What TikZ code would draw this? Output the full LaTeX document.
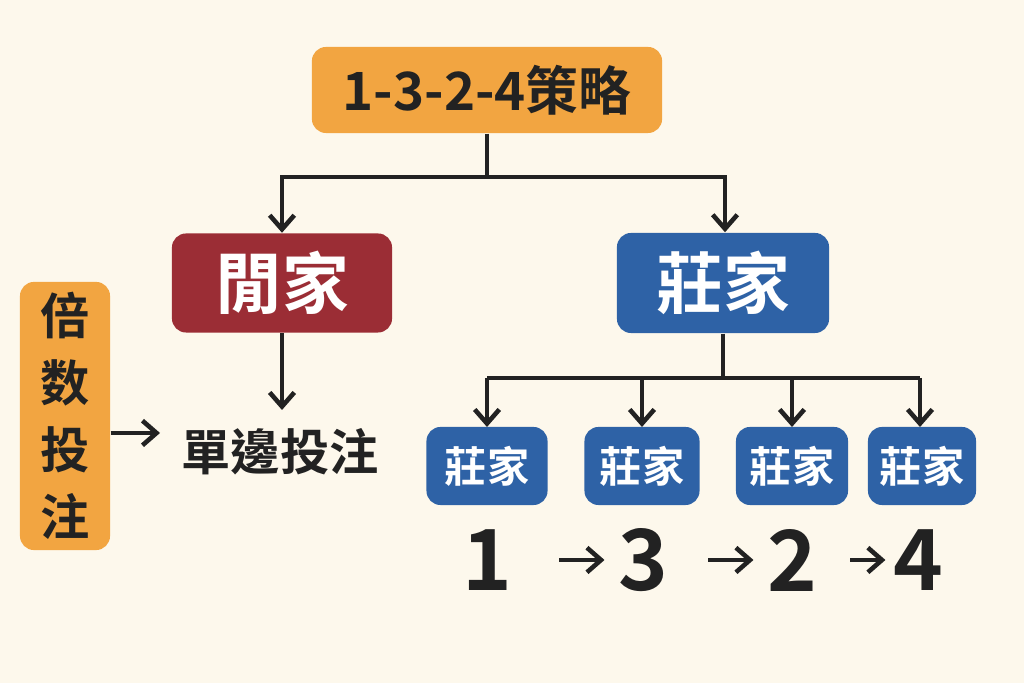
\documentclass[tikz,border=0pt]{standalone}
\usepackage{fontspec}
\setmainfont{Noto Sans CJK TC}[BoldFont={Noto Sans CJK TC Bold}]
\usetikzlibrary{positioning,arrows.meta}
\definecolor{cream}{HTML}{FDF8EC}
\definecolor{boxorange}{HTML}{F2A541}
\definecolor{boxred}{HTML}{9B2D35}
\definecolor{boxblue}{HTML}{2E62A6}
\definecolor{ink}{HTML}{222222}
\tikzset{
  box/.style={rounded corners=4pt, inner sep=0pt, font=\bfseries},
  conn/.style={ink, line width=1.3pt},
  arr/.style={conn, -{Straight Barb[length=4pt,width=7pt]}},
}
\begin{document}
\begin{tikzpicture}[x=0.01cm,y=-0.01cm]
  % Hintergrund
  \fill[cream] (0,0) rectangle (1024,683);
  \useasboundingbox (0,0) rectangle (1024,683);

  % Kasten
  \node[box, fill=boxorange, text=ink, minimum width=3.5cm, minimum height=0.86cm, font=\bfseries\fontsize{15}{18}\selectfont] (top) at (487,90) {1-3-2-4策略};
  \node[box, fill=boxred, text=white, minimum width=2.2cm, minimum height=0.99cm, font=\bfseries\fontsize{19}{22}\selectfont] (xian) at (282,283) {閒家};
  \node[box, fill=boxblue, text=white, minimum width=2.12cm, minimum height=1cm, font=\bfseries\fontsize{19}{22}\selectfont] (zhuang) at (723,283) {莊家};
  \node[box, fill=boxorange, text=ink, minimum width=0.9cm, minimum height=2.68cm, align=center, font=\bfseries\fontsize{14}{19}\selectfont] (bei) at (65,416) {倍\\数\\投\\注};
  \node[font=\bfseries\fontsize{14}{17}\selectfont, text=ink] (dan) at (280,452) {單邊投注};

  % Kleine Kasten
  \foreach \name/\x/\w in {za/487/1.21, zb/642/1.15, zc/792/1.12, zd/922/1.08}
    \node[box, fill=boxblue, text=white, minimum width=\w cm, minimum height=0.78cm, font=\bfseries\fontsize{12}{14}\selectfont] (\name) at (\x,466) {莊家};

  % Zahlen
  \foreach \name/\x/\t in {na/487/1, nb/643/3, nc/792/2, nd/918/4}
    \node[font=\bfseries\fontsize{24}{28}\selectfont, text=ink] (\name) at (\x,560) {\t};
  \draw[arr] (na.east) ++(10pt,0) coordinate (a1) -- ++(45,0);
  \draw[arr] (nb.east) ++(8pt,0) -- ++(45,0);
  \draw[arr] (nc.east) ++(6pt,0) -- ++(35,0);

  % Verbindungen
  \draw[conn] (top.south) -- (487,177) coordinate (tj);
  \draw[arr] (285,177) -| (xian.north);
  \draw[arr] (285,177) -- (725,177) -- (zhuang.north -| 725,0);
  \draw[arr] (xian.south) -- (282,410);
  \draw[arr] (bei.east |- 0,433) -- (160,433);
  \draw[conn] (zhuang.south) -- (723,378);
  \draw[conn] (487,378) -- (920,378);
  \foreach \n/\x in {za/487, zb/642, zc/792, zd/920}
    \draw[arr] (\x,378) -- (\x,427);
\end{tikzpicture}
\end{document}
